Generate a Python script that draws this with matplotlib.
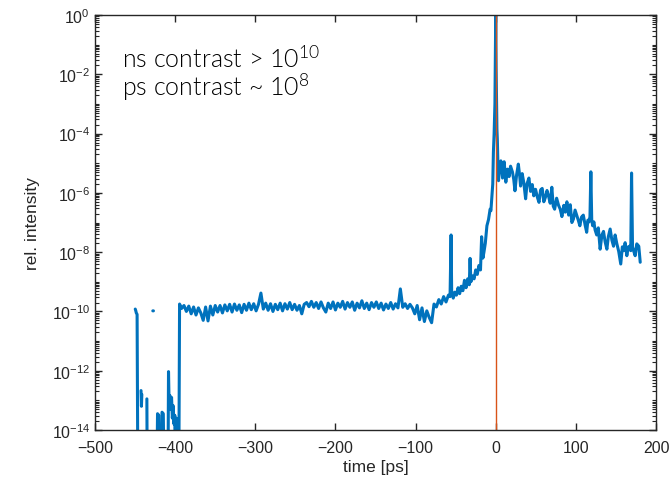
import numpy as np
import matplotlib
matplotlib.use('Agg')
import matplotlib.pyplot as plt
from matplotlib.ticker import LogLocator, NullFormatter, LogFormatterSciNotation

nan = np.nan

# measured trace, log10 of relative intensity vs time [ps]
# -16 means "below the axis", nan means gap (non-positive value in log plot)
early_t = [-449.8, -449.2, -448.5, -447.5, -446.5, -445, -442.6, -442.1, -441.6, -440.5,
           -436, -435.3, -434.8, -433, -427.9, -427.1, -426, -424, -423, -422,
           -420.5, -419.6, -417.5, -416.4, -414.8, -413.8, -410.5, -409, -408.3, -407.5,
           -406.5, -405.5, -404.5, -403.5, -402.5, -401.5, -400.5, -399.5, -398.5, -397.5,
           -396.5, -395.5]
early_log = [-9.92, -9.97, -10.05, -10.1, -16, nan, -12.67, -13.2, -12.8, nan,
             nan, -12.95, -16, nan, -9.98, -9.98, nan, nan, -16, -13.45,
             -13.5, -16, -16, -13.4, -13.45, -16, nan, -16, -12.03, -13.2,
             -12.84, -13.3, -12.9, -13.6, -13.18, -13.8, -13.5, -16, -13.6, -16,
             -13.9, -16]

plateau_t = [-394.5, -392, -389, -386, -383, -380, -377, -374, -371, -368,
             -365, -362, -359, -356, -353, -350, -347, -344, -341, -338,
             -335, -332, -329, -326, -323, -320, -317, -314, -311, -308,
             -305, -302, -299, -296, -293, -290, -287, -284, -281, -278,
             -275, -272, -269, -266, -263, -260, -257, -254, -251, -248,
             -245, -242, -239, -236, -233, -230, -227, -224, -221, -218,
             -215, -212, -209, -206, -203, -200, -197, -194, -191, -188,
             -185, -182, -179, -176, -173, -170, -167, -164, -161, -158,
             -155, -152, -149, -146, -143, -140, -137, -134, -131, -128,
             -125, -122, -119, -116, -113, -110, -107, -104, -101, -98,
             -95, -92, -89, -86, -83, -80, -77, -74, -71, -68,
             -65, -62, -59]
plateau_log = [-9.75, -9.9, -9.8, -10.0, -9.82, -10.08, -9.85, -10.12, -9.88, -10.05,
               -10.3, -9.85, -10.32, -9.82, -10.12, -9.8, -10.02, -9.8, -10.05, -9.78,
               -9.98, -9.76, -10.02, -9.75, -9.96, -9.78, -10.04, -9.76, -9.96, -9.72,
               -9.94, -9.74, -9.98, -9.76, -9.38, -9.92, -9.72, -9.96, -9.74, -10.0,
               -9.76, -9.94, -9.72, -9.98, -9.74, -9.92, -9.7, -9.94, -9.76, -9.96,
               -9.8, -10.08, -9.76, -9.7, -9.84, -9.66, -9.86, -9.7, -9.9, -9.68,
               -9.88, -10.02, -9.72, -9.9, -9.68, -9.95, -9.72, -9.86, -9.66, -9.92,
               -9.7, -9.86, -9.68, -9.96, -9.72, -9.88, -9.64, -9.9, -9.72, -9.94,
               -9.7, -9.86, -9.68, -9.9, -9.72, -9.95, -9.75, -9.9, -9.7, -9.92,
               -9.74, -9.88, -9.24, -9.86, -9.74, -9.9, -9.76, -9.88, -10.08, -9.8,
               -10.28, -9.88, -10.34, -9.98, -10.2, -10.38, -9.75, -9.85, -9.6, -9.75,
               -9.5, -9.68, -9.45]

rise_t = [-57, -55.7, -55, -53, -51, -49, -47, -45, -43, -41,
          -39, -37, -35, -33, -32, -31, -29, -27, -25, -23,
          -21, -19, -17.6, -16, -14.7, -13, -11, -9, -7, -6,
          -5, -3.7, -2.9, -2, -1, -0.5, 0, 0.5, 1.5, 2,
          2.6, 3.5, 4.5]
rise_log = [-9.5, -7.42, -9.3, -9.55, -9.35, -9.45, -9.2, -9.4, -9.15, -9.3,
            -8.95, -9.2, -8.9, -9.1, -8.21, -9.0, -8.8, -8.9, -8.6, -8.75,
            -8.45, -8.6, -7.48, -8.2, -8.0, -7.7, -7.11, -6.9, -6.55, -6.6,
            -6.2, -5.7, -4.63, -4.0, -3.0, -1.5, 0.0, -1.8, -3.85, -4.18,
            -4.86, -5.59, -5.2]

decay_t = [6.4, 8.5, 10.5, 12.6, 14.6, 16.7, 18.5, 20.9, 22.5, 24,
           26, 28.2, 30, 31, 33, 35, 37.3, 39, 41.4, 43.5,
           45.6, 47.5, 49.7, 52, 54, 56, 58, 60, 62, 64,
           66, 68, 70, 71.8, 73.5, 76, 78.4, 80.5, 82.6, 85,
           86.8, 88.8, 91, 93, 95, 97, 99, 101, 103, 105,
           107, 109.3, 111.5, 113.5, 115, 116.4, 117.6, 118.7, 119.8, 121,
           122.5, 124, 126, 128, 130.3, 132.5, 134.5, 136.5, 138.7, 140.5,
           142.8, 145, 147, 149, 151, 153.5, 156, 158, 159.5, 161.5,
           163.6, 165.5, 167, 168.5, 169.5, 170.7, 172, 174, 176, 178.5,
           180.3]
decay_log = [-4.92, -5.5, -4.95, -5.64, -5.2, -5.45, -5.1, -5.3, -5.55, -5.93,
             -5.4, -5.03, -5.45, -5.77, -5.35, -5.65, -6.2, -5.7, -5.5, -5.95,
             -5.72, -6.1, -5.88, -6.15, -6.32, -5.9, -5.85, -6.3, -6.15, -5.92,
             -6.12, -6.35, -5.81, -6.45, -6.55, -6.18, -6.42, -6.55, -6.8, -6.42,
             -6.65, -6.3, -6.75, -6.4, -7.0, -6.88, -6.58, -6.75, -6.92, -7.11,
             -6.82, -6.75, -7.08, -7.33, -6.92, -6.98, -6.8, -5.29, -6.92, -7.11,
             -6.98, -7.25, -7.42, -7.18, -7.9, -7.42, -7.3, -7.65, -7.9, -7.48,
             -7.22, -7.6, -7.8, -7.42, -7.7, -7.98, -8.4, -7.82, -7.95, -7.68,
             -8.12, -7.82, -7.8, -7.95, -5.33, -7.82, -7.95, -8.12, -7.72, -7.8,
             -8.34]

# marker for t = 0
zero_t = [0.3, 0.3]
zero_y = [1e-14, 1.0]

t = np.array(early_t + plateau_t + rise_t + decay_t)
y = 10.0 ** np.array(early_log + plateau_log + rise_log + decay_log)

plt.rcParams['font.family'] = ['Liberation Sans', 'DejaVu Sans']
fig = plt.figure(figsize=(6.72, 4.85), dpi=100)
ax = fig.add_axes([0.1414, 0.1113, 0.8348, 0.8557])

ax.plot(t, y, color='#0072BD', lw=2.2, solid_capstyle='round', solid_joinstyle='round')
ax.plot(zero_t, zero_y, color='#D95319', lw=1.0)

ax.set_yscale('log')
ax.set_xlim(-500, 200)
ax.set_ylim(1e-14, 1)
ax.set_xticks([-500, -400, -300, -200, -100, 0, 100, 200])
ax.set_yticks([10.0 ** k for k in range(-14, 1, 2)])
ax.yaxis.set_major_formatter(LogFormatterSciNotation())
ax.yaxis.set_minor_locator(LogLocator(base=10, subs=np.arange(1, 10), numticks=30))
ax.yaxis.set_minor_formatter(NullFormatter())

dark = '#262626'
for s in ax.spines.values():
    s.set_color(dark)
    s.set_linewidth(1.0)
ax.tick_params(which='both', direction='in', top=True, right=True, colors=dark,
               labelsize=11.5, labelcolor=dark)
ax.tick_params(which='major', length=5, width=1.0)
ax.tick_params(which='minor', length=3, width=0.8)
ax.tick_params(axis='x', pad=7)

ax.set_xlabel('time [ps]', fontsize=12.5, color=dark, labelpad=3)
ax.set_ylabel('rel. intensity', fontsize=12.5, color=dark, labelpad=8)

ax.text(-466, 3.4e-2, r'ns contrast > $\mathdefault{10^{10}}$', fontsize=18,
        family='Lato', weight=300, color='black', va='center')
ax.text(-466, 3.9e-3, r'ps contrast ~ $\mathdefault{10^{8}}$', fontsize=18,
        family='Lato', weight=300, color='black', va='center')

fig.savefig('out.png', dpi=100)
